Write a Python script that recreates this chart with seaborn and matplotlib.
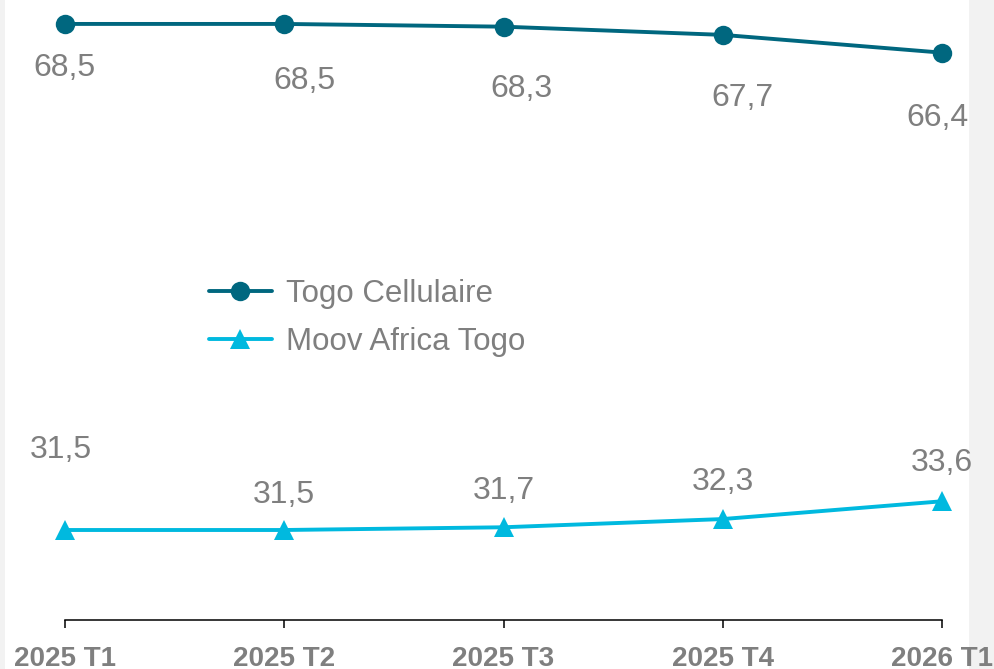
# Parts de marché mobiles (%) - Togo Cellulaire vs Moov Africa Togo
import pandas as pd
import matplotlib.pyplot as plt
import seaborn as sns
from matplotlib.patches import Rectangle

# %% données
periodes = ["2025 T1", "2025 T2", "2025 T3", "2025 T4", "2026 T1"]
togo_cellulaire = [68.5, 68.5, 68.3, 67.7, 66.4]
moov_africa = [31.5, 31.5, 31.7, 32.3, 33.6]
operateurs = ["Togo Cellulaire", "Moov Africa Togo"]

# décalages des étiquettes (pixels, x / ligne de base)
decal_tc = [(-1, -52), (20, -65), (18, -70), (20, -71), (-4, -73)]
decal_moov = [(-4, 72), (0, 27), (0, 28), (0, 29), (0, 30)]

df = pd.DataFrame({
    "idx": list(range(len(periodes))) * 2,
    "valeur": togo_cellulaire + moov_africa,
    "operateur": [operateurs[0]] * len(periodes) + [operateurs[1]] * len(periodes),
})

couleurs = {"Togo Cellulaire": "#00677F", "Moov Africa Togo": "#00B9DF"}
marqueurs = {"Togo Cellulaire": "o", "Moov Africa Togo": "^"}
tailles = {"Togo Cellulaire": 14, "Moov Africa Togo": 15}
gris = "#7F7F7F"

# %% figure
sns.set_style("white")
plt.rcParams["font.family"] = ["Liberation Sans", "DejaVu Sans"]

fig = plt.figure(figsize=(9.94, 6.69), dpi=100)
fig.patch.set_facecolor("#F2F2F2")
fond = Rectangle((5 / 994, 0), 964 / 994, 1, transform=fig.transFigure,
                 facecolor="white", edgecolor="none", zorder=-10)
fig.add_artist(fond)
ax = fig.add_axes([65 / 994, 49 / 669, 877 / 994, 620 / 669])
ax.set_facecolor("none")

sns.lineplot(data=df, x="idx", y="valeur", hue="operateur", style="operateur",
             palette=couleurs, markers=marqueurs, dashes=False, sort=False,
             linewidth=2.8, markersize=14, markeredgewidth=0, clip_on=False, ax=ax)

ax.set_xlim(0, 4)
ax.set_ylim(24.92, 70.25)

for serie, decal in [(togo_cellulaire, decal_tc), (moov_africa, decal_moov)]:
    for i, v in enumerate(serie):
        ax.annotate(f"{v:.1f}".replace(".", ","), (i, v), xytext=decal[i],
                    textcoords="offset pixels", ha="center", va="baseline",
                    fontsize=23, color=gris, annotation_clip=False)

# axes
for cote in ["left", "right", "top"]:
    ax.spines[cote].set_visible(False)
ax.spines["bottom"].set_color("black")
ax.spines["bottom"].set_linewidth(1.1)
ax.set_yticks([])
ax.set_xticks(range(len(periodes)))
ax.set_xticklabels(periodes, fontsize=20, fontweight="bold", color=gris)
ax.tick_params(axis="x", bottom=True, direction="out", length=6, width=1.1,
               color="black", pad=13)
ax.set_xlabel("")
ax.set_ylabel("")

handles, labels = ax.get_legend_handles_labels()
for h, lab in zip(handles, labels):
    h.set_markersize(tailles[lab])
for ligne in ax.lines:
    lab = ligne.get_label()
    if lab in tailles:
        ligne.set_markersize(tailles[lab])
ax.legend(handles, labels, loc="center left", bbox_to_anchor=(209 / 994, 1 - 318 / 669),
          bbox_transform=fig.transFigure, frameon=False, fontsize=22.5,
          labelcolor=gris, handlelength=2.0, handletextpad=0.45, labelspacing=0.58,
          borderpad=0, borderaxespad=0)

fig.savefig("out.png", dpi=100, facecolor=fig.get_facecolor())
